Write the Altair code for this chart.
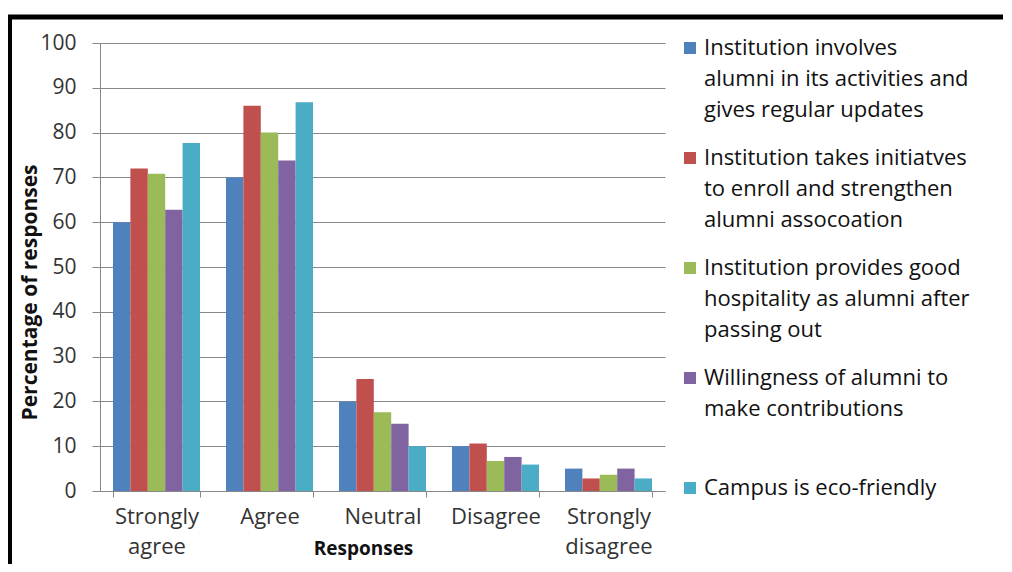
import altair as alt
import pandas as pd

categories = ["Strongly|agree", "Agree", "Neutral", "Disagree", "Strongly|disagree"]
series_names = [
    "Institution  involves|alumni in its activities and|gives regular updates",
    "Institution  takes  initiatves|to enroll and strengthen|alumni assocoation",
    "Institution  provides good|hospitality  as alumni  after|passing out",
    "Willingness of alumni to|make  contributions| ",
    "Campus is eco-friendly",
]
involves = [60, 70, 20, 10, 5]
initiatives = [72, 86, 25, 10.6, 2.8]
hospitality = [70.8, 80, 17.6, 6.7, 3.6]
willingness = [62.8, 73.8, 15, 7.6, 5]
eco_friendly = [77.7, 86.8, 10, 5.9, 2.8]
colors = ["#4F81BD", "#C0504D", "#9BBB59", "#8064A2", "#4BACC6"]

all_values = [involves, initiatives, hospitality, willingness, eco_friendly]
rows = []
for s, vals in zip(series_names, all_values):
    for c, v in zip(categories, vals):
        rows.append({"category": c, "series": s, "value": v})
df = pd.DataFrame(rows)

FONT = "Open Sans"

bars = alt.Chart(df).mark_bar().encode(
    x=alt.X(
        "category:N",
        sort=categories,
        scale=alt.Scale(paddingInner=0.23, paddingOuter=0.115),
        axis=alt.Axis(
            title="Responses",
            labelExpr="split(datum.label, '|')",
            labelAngle=0,
            labelFontSize=22,
            labelLineHeight=30,
            labelPadding=9,
            labelColor="#333333",
            labelFont=FONT,
            tickBand="extent",
            tickSize=6,
            tickColor="#888888",
            domainColor="#888888",
            grid=False,
            titleFont=FONT,
            titleFontSize=19,
            titleFontWeight="bold",
            titleX=263,
            titleY=57,
            titleBaseline="middle",
            titleColor="#111111",
        ),
    ),
    xOffset=alt.XOffset(
        "series:N", sort=series_names,
        scale=alt.Scale(domain=series_names, paddingInner=0, paddingOuter=0),
    ),
    y=alt.Y(
        "value:Q",
        scale=alt.Scale(domain=[0, 100], nice=False),
        axis=alt.Axis(
            values=list(range(0, 101, 10)),
            title="Percentage of responses",
            titleFont=FONT,
            titleFontSize=21,
            titleFontWeight="bold",
            titleColor="#111111",
            titleX=-70,
            titleY=249,
            titleAlign="center",
            titleBaseline="middle",
            labelFont=FONT,
            labelFontSize=21,
            labelColor="#333333",
            labelPadding=16,
            tickSize=8,
            tickColor="#888888",
            domainColor="#888888",
            gridColor="#888888",
            gridWidth=1,
        ),
    ),
    color=alt.Color(
        "series:N",
        sort=series_names,
        scale=alt.Scale(domain=series_names, range=colors),
        legend=alt.Legend(
            title=None,
            orient="none",
            legendX=579,
            legendY=-6,
            symbolType="square",
            symbolSize=144,
            symbolStrokeWidth=0,
            symbolOpacity=1,
            labelFont=FONT,
            labelFontSize=22,
            labelColor="#111111",
            labelLimit=400,
            labelOffset=3,
            labelExpr="split(datum.label, '|')",
            rowPadding=26,
        ),
    ),
)

frame_top = alt.Chart(alt.Data(values=[{"k": 1}])).mark_rule(
    color="black", strokeWidth=5
).encode(x=alt.value(-92), x2=alt.value(920), y=alt.value(-26))
frame_left = alt.Chart(alt.Data(values=[{"k": 1}])).mark_rule(
    color="black", strokeWidth=4
).encode(x=alt.value(-90), y=alt.value(-28), y2=alt.value(90 + 448))

chart = alt.layer(bars, frame_top, frame_left).properties(
    width=565,
    height=448,
    autosize=alt.AutoSizeParams(type="none"),
    padding={"left": 92, "top": 35, "right": 338, "bottom": 73},
).configure(
    font=FONT,
    view=alt.ViewConfig(stroke="transparent", strokeWidth=0),
    style={"guide-label": {"lineHeight": 31}},
)

chart.save("out.html", embed_options={"renderer": "svg", "actions": False})
